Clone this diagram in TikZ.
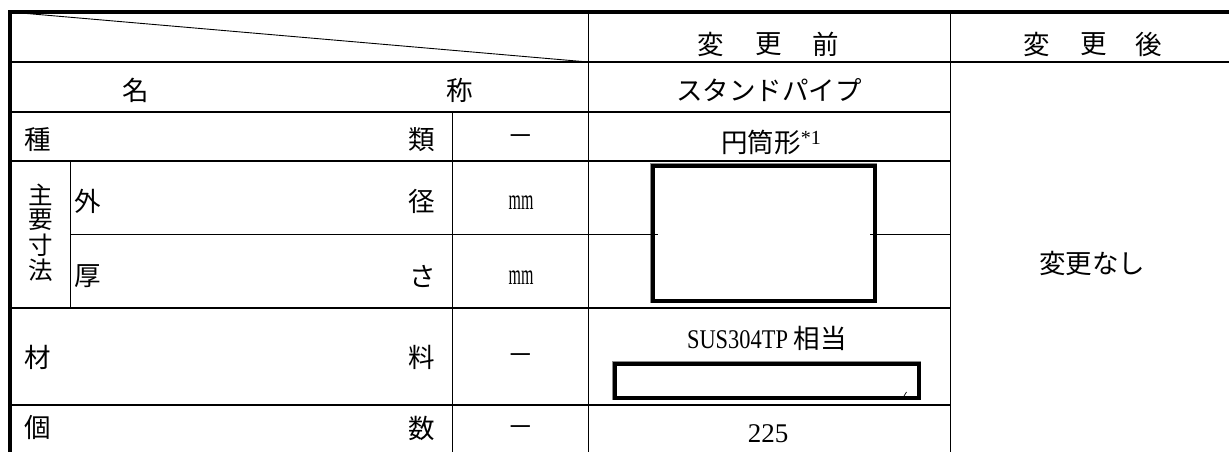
\documentclass[tikz,border=0pt]{standalone}
\usepackage{fontspec}
\setmainfont{Liberation Serif}
\newfontfamily\jp{Noto Sans CJK JP}
\newfontfamily\hw[FakeStretch=0.83]{Liberation Serif}
\newfontfamily\narrowmm[FakeStretch=0.55]{Liberation Serif}
\begin{document}
\begin{tikzpicture}[x=1pt,y=-1pt,
  outer/.style={line width=4pt},
  rule/.style={line width=1.7pt},
  fine/.style={line width=0.9pt},
  redact/.style={line width=4pt, fill=white},
  halo/.style={line width=0.6pt, draw=black!45},
  jt/.style={font=\jp\fontsize{26.5}{26.5}\selectfont, inner sep=0pt},
  vt/.style={font=\jp\fontsize{24.5}{24.5}\selectfont, inner sep=0pt},
  lt/.style={font=\rmfamily\fontsize{27}{27}\selectfont, inner sep=0pt},
  mmt/.style={font=\narrowmm\fontsize{29}{29}\selectfont, inner sep=0pt}]
\useasboundingbox (0,0) rectangle (1229,452);
\fill[white] (0,0) rectangle (1229,452);
\clip (0,0) rectangle (1229,452);
% fine grid lines
\draw[fine] (9.5,12) -- (588,62);
\draw[fine] (588,12) -- (588,470);
\draw[fine] (950,12) -- (950,470);
\draw[fine] (452,112) -- (452,470);
\draw[fine] (70,161) -- (70,308);
% heavier rules
\draw[rule] (9.5,62) -- (1238,62);
\draw[rule] (9.5,112) -- (950,112);
\draw[rule] (9.5,161) -- (950,161);
\draw[rule] (9.5,308) -- (950,308);
\draw[rule] (9.5,405) -- (950,405);
% outer frame
\draw[outer] (9.5,470) -- (9.5,12) -- (1238,12) -- (1238,470);
% redaction boxes
\draw[halo] (650.3,163.3) rectangle (876.7,302.7);
\draw[redact] (652.5,165.5) rectangle (874.5,300.5);
\draw[fine] (70,234) -- (658,234);
\draw[fine] (870,234) -- (950,234);
\draw[halo] (612.3,361.3) rectangle (920.7,399.7);
\draw[redact] (614.5,363.5) rectangle (918.5,397.5);
\draw[line width=0.7pt] (904,396) -- (906.5,392);
% header
\node[jt] (h1a) at (711,44) {変};
\node[jt] (h1b) at (769,44) {更};
\node[jt] (h1c) at (826,44) {前};
\node[jt] (h2a) at (1037,44) {変};
\node[jt] (h2b) at (1094,44) {更};
\node[jt] (h2c) at (1149,44) {後};
% name row
\node[jt] (na) at (136,90) {名};
\node[jt] (nb) at (460,90) {称};
\node[jt] (nv) at (769,90) {スタンドパイプ};
% type row
\node[jt] (ta) at (38,140) {種};
\node[jt] (tb) at (422,140) {類};
\node[jt] (tu) at (521,140) {－};
\node[jt] (tv) at (771,142) {円筒形\raisebox{0.28em}{\rmfamily\fontsize{20}{20}\selectfont *1}};
% main dimensions
\node[vt] (m1) at (41,195) {主};
\node[vt] (m2) at (41,220) {要};
\node[vt] (m3) at (41,245) {寸};
\node[vt] (m4) at (41,270) {法};
\node[jt] (oa) at (88,201) {外};
\node[jt] (ob) at (422,201) {径};
\node[mmt] (ou) at (521,203) {mm};
\node[jt] (ka) at (88,276) {厚};
\node[jt] (kb) at (423,276) {さ};
\node[mmt] (ku) at (521,278) {mm};
% material
\node[jt] (za) at (38,357) {材};
\node[jt] (zb) at (422,357) {料};
\node[jt] (zu) at (521,359) {－};
\node[jt] (zv) at (767,338) {{\hw\fontsize{27}{27}\selectfont SUS304TP} 相当};
% count
\node[jt] (ca) at (38,428) {個};
\node[jt] (cb) at (422,428) {数};
\node[jt] (cu) at (521,431) {－};
\node[lt] (cv) at (768,434) {225};
% after
\node[jt] (af) at (1092,263) {変更なし};
\end{tikzpicture}
\end{document}
